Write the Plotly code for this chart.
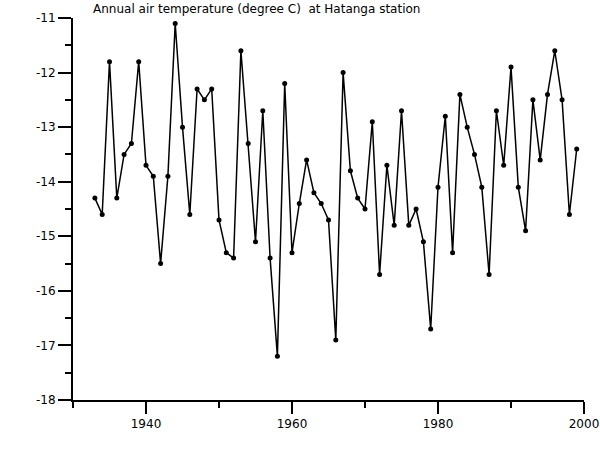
import plotly.graph_objects as go

years = list(range(1933, 2000))
temps = [
    -14.3, -14.6, -11.8, -14.3, -13.5, -13.3, -11.8,
    -13.7, -13.9, -15.5, -13.9, -11.1, -13.0, -14.6, -12.3, -12.5, -12.3,
    -14.7, -15.3, -15.4, -11.6, -13.3, -15.1, -12.7, -15.4, -17.2, -12.2,
    -15.3, -14.4, -13.6, -14.2, -14.4, -14.7, -16.9, -12.0, -13.8, -14.3,
    -14.5, -12.9, -15.7, -13.7, -14.8, -12.7, -14.8, -14.5, -15.1, -16.7,
    -14.1, -12.8, -15.3, -12.4, -13.0, -13.5, -14.1, -15.7, -12.7, -13.7,
    -11.9, -14.1, -14.9, -12.5, -13.6, -12.4, -11.6, -12.5, -14.6, -13.4,
]
y_tick_vals = [-18, -17, -16, -15, -14, -13, -12, -11]
y_tick_text = ["-18", "-17", "-16", "-15", "-14", "-13", "-12", "-11"]
title_text = "Annual air temperature (degree C)\u00a0\u00a0at Hatanga station"

fig = go.Figure()
fig.add_trace(go.Scatter(
    x=years, y=temps, mode="lines+markers",
    line=dict(color="black", width=1.5),
    marker=dict(color="black", size=5),
    showlegend=False,
))

fig.update_layout(
    width=600, height=460,
    margin=dict(l=73, r=16, t=18, b=60, autoexpand=False),
    paper_bgcolor="white", plot_bgcolor="white",
    font=dict(family="DejaVu Sans", size=12, color="black"),
    title=dict(text=title_text, x=93/600, xanchor="left", xref="container",
               y=1 - 9/460, yanchor="middle", yref="container",
               font=dict(family="DejaVu Sans", size=12, color="black")),
)
fig.update_xaxes(
    range=[1930, 2000], showgrid=False, zeroline=False, automargin=False,
    showline=True, linecolor="black", linewidth=2,
    ticks="outside", ticklen=12, tickwidth=2, tickcolor="black",
    tick0=1940, dtick=20,
    minor=dict(ticks="outside", ticklen=6, tickwidth=2, tickcolor="black", dtick=10, tick0=1930, showgrid=False),
    tickfont=dict(family="DejaVu Sans", size=12),
)
fig.update_yaxes(
    range=[-18, -11], showgrid=False, zeroline=False, automargin=False,
    showline=True, linecolor="black", linewidth=2,
    ticks="outside", ticklen=13, tickwidth=2, tickcolor="black",
    tickmode="array", tickvals=y_tick_vals, ticktext=y_tick_text,
    minor=dict(ticks="outside", ticklen=6, tickwidth=2, tickcolor="black",
               tickmode="linear", tick0=-18, dtick=0.5, showgrid=False),
    tickfont=dict(family="DejaVu Sans", size=12),
)

fig.write_html("out.html")
